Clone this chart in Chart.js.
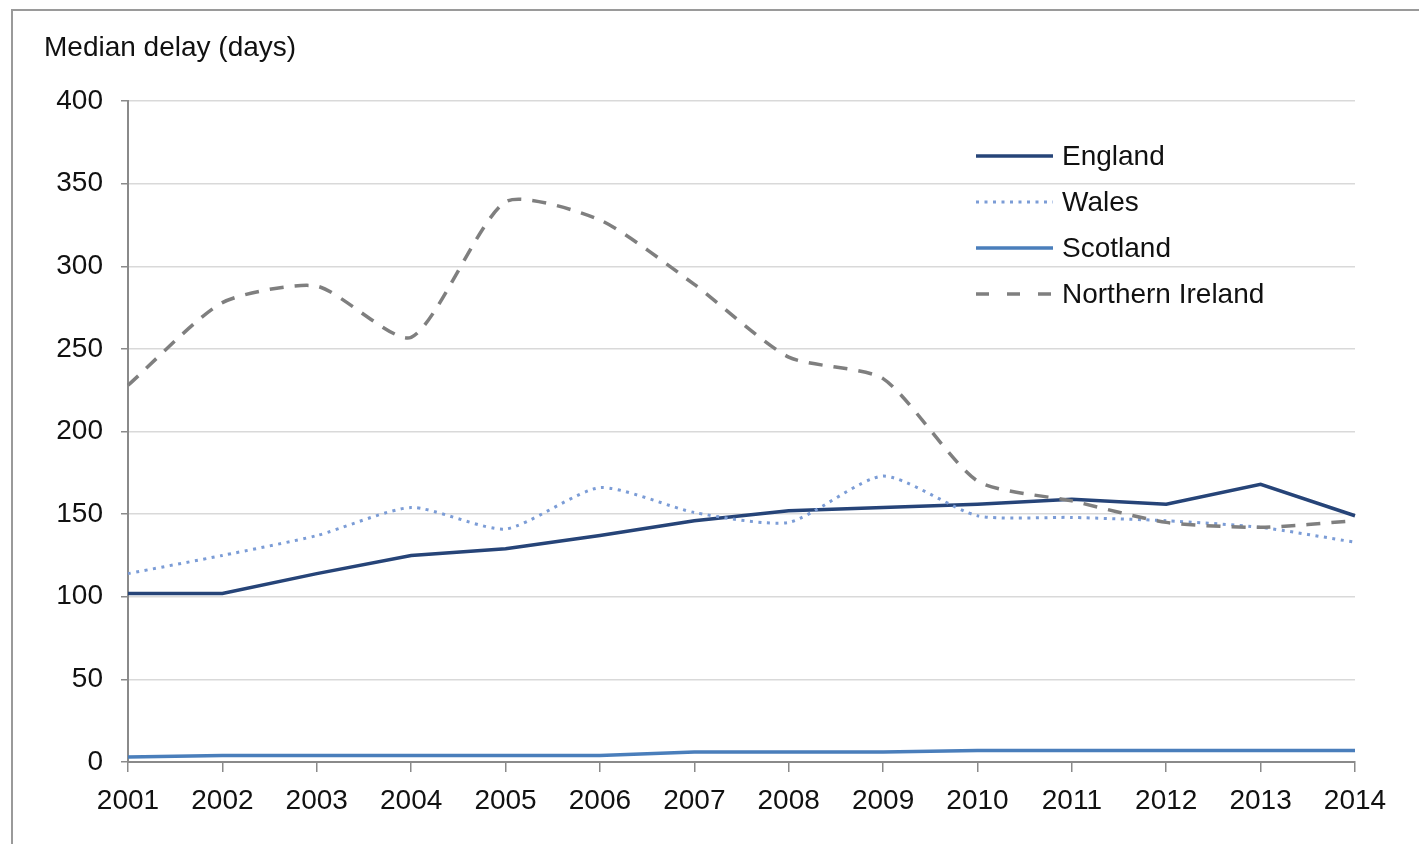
<!DOCTYPE html>
<html>
<head>
<meta charset="utf-8">
<title>Median delay (days)</title>
<script src="https://cdn.jsdelivr.net/npm/chart.js@4.4.1/dist/chart.umd.min.js"></script>
<style>
  html, body { margin: 0; padding: 0; background: #ffffff; }
  #wrap { position: relative; width: 1419px; height: 844px; }
  canvas { display: block; }
</style>
</head>
<body>
<div id="wrap"><canvas id="chart" width="1419" height="844"></canvas></div>
<script>
// Years on the horizontal axis
const years = ['2001', '2002', '2003', '2004', '2005', '2006', '2007',
               '2008', '2009', '2010', '2011', '2012', '2013', '2014'];

// Median delay in days, by nation
const england         = [102, 102, 114, 125, 129, 137, 146, 152, 154, 156, 159, 156, 168, 149];
const wales           = [114, 125, 137, 154, 141, 166, 151, 145, 173, 149, 148, 146, 142, 133];
const scotland        = [3, 4, 4, 4, 4, 4, 6, 6, 6, 7, 7, 7, 7, 7];
const northernIreland = [228, 278, 288, 257, 339, 328, 289, 245, 232, 170, 158, 145, 142, 146];

// Value-axis ticks
const yTicks = [0, 50, 100, 150, 200, 250, 300, 350, 400];

const axisTitle = 'Median delay (days)';
const FONT = '"Liberation Sans", Arial, sans-serif';

// Frame, axis caption and the legend box drawn on the canvas
const decorations = {
  id: 'decorations',
  beforeDraw(chart) {
    const ctx = chart.ctx;
    ctx.save();
    ctx.fillStyle = '#ffffff';
    ctx.fillRect(0, 0, chart.width, chart.height);
    ctx.strokeStyle = '#9a9a9a';
    ctx.lineWidth = 2;
    ctx.beginPath();
    ctx.moveTo(12, chart.height + 5);
    ctx.lineTo(12, 10);
    ctx.lineTo(chart.width + 5, 10);
    ctx.stroke();
    ctx.restore();
  },
  afterDraw(chart) {
    const ctx = chart.ctx;
    ctx.save();
    ctx.fillStyle = '#111111';
    ctx.font = '28px ' + FONT;
    ctx.textBaseline = 'alphabetic';
    ctx.textAlign = 'left';
    ctx.fillText(axisTitle, 44, 56);

    // legend
    const x0 = 976, x1 = 1053, tx = 1062, yStart = 156, step = 46;
    chart.data.datasets.forEach((ds, i) => {
      const y = yStart + i * step;
      ctx.strokeStyle = ds.borderColor;
      ctx.lineWidth = ds.borderWidth;
      ctx.setLineDash(ds.legendDash || []);
      ctx.lineCap = 'butt';
      ctx.beginPath();
      ctx.moveTo(x0, y);
      ctx.lineTo(x1, y);
      ctx.stroke();
      ctx.setLineDash([]);
      ctx.fillStyle = '#111111';
      ctx.textBaseline = 'middle';
      ctx.fillText(ds.label, tx, y + 1);
    });
    ctx.restore();
  }
};

new Chart(document.getElementById('chart'), {
  type: 'line',
  data: {
    labels: years,
    datasets: [
      {
        label: 'England', data: england,
        borderColor: '#264478', borderWidth: 3.5, tension: 0,
        pointRadius: 0, order: 4
      },
      {
        label: 'Wales', data: wales,
        borderColor: '#7b9cd6', borderWidth: 3, borderDash: [3, 5.5],
        legendDash: [3, 5.5], tension: 0.22,
        pointRadius: 0, order: 3
      },
      {
        label: 'Scotland', data: scotland,
        borderColor: '#4a7ebb', borderWidth: 3.5, tension: 0,
        pointRadius: 0, order: 2
      },
      {
        label: 'Northern Ireland', data: northernIreland,
        borderColor: '#7f7f7f', borderWidth: 3.5, borderDash: [14, 11],
        legendDash: [13, 18], tension: 0.22,
        pointRadius: 0, order: 1
      }
    ]
  },
  options: {
    responsive: false,
    animation: false,
    layout: { padding: { top: 101, right: 64, left: 0, bottom: 0 } },
    plugins: {
      legend: { display: false },
      title: { display: false },
      tooltip: { enabled: false }
    },
    scales: {
      x: {
        offset: false,
        afterFit(scale) { scale.height = 82; },
        border: { color: '#8a8a8a', width: 2 },
        grid: { drawOnChartArea: false, tickLength: 10, color: '#8a8a8a', lineWidth: 1.5 },
        ticks: { font: { family: FONT, size: 28 }, color: '#111111', padding: 12, maxRotation: 0, autoSkip: false }
      },
      y: {
        min: 0, max: 400,
        afterFit(scale) { scale.width = 128; },
        afterBuildTicks(scale) { scale.ticks = yTicks.map(v => ({ value: v })); },
        border: { color: '#8a8a8a', width: 2 },
        grid: { color: '#d9d9d9', lineWidth: 1.5, tickLength: 7, tickColor: '#8a8a8a' },
        ticks: { font: { family: FONT, size: 28 }, color: '#111111', padding: 18 }
      }
    }
  },
  plugins: [decorations]
});
</script>
</body>
</html>
